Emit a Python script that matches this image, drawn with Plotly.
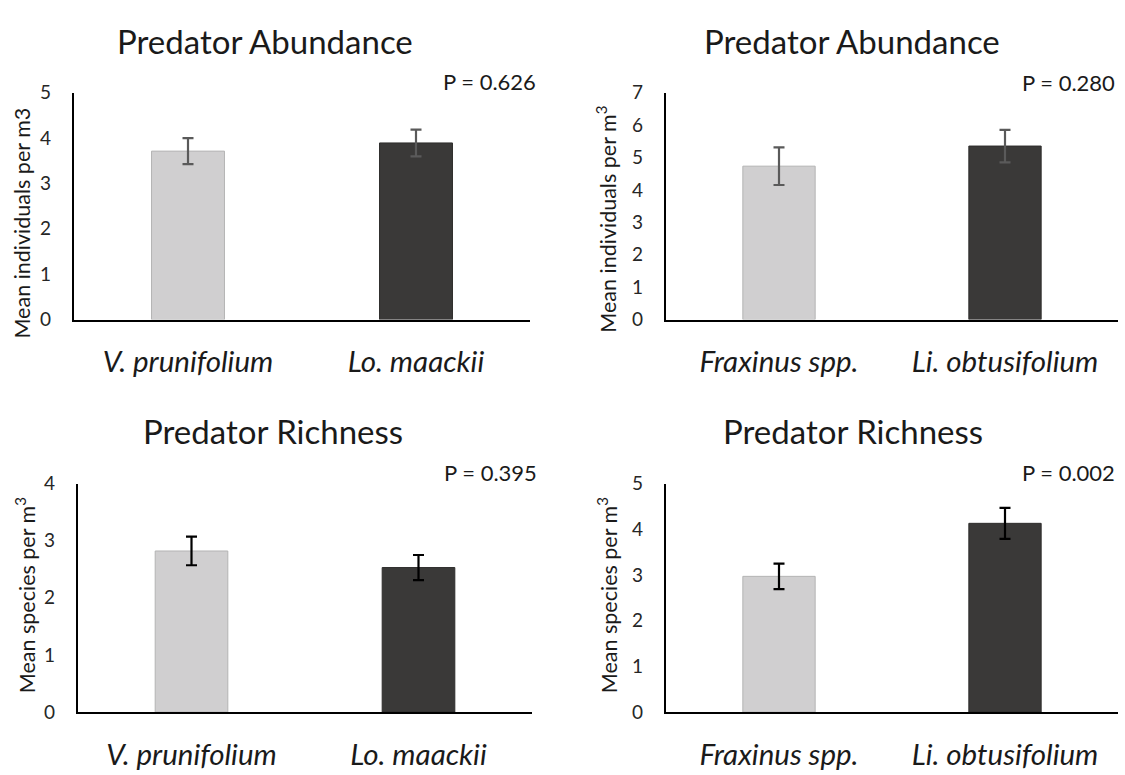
import plotly.graph_objects as go

FONT = "Lato"

# ---- data ----
cats_left = ["V. prunifolium", "Lo. maackii"]
cats_right = ["Fraxinus spp.", "Li. obtusifolium"]

abund_left = [3.71, 3.89]
abund_left_err = [0.285, 0.295]
abund_right = [4.73, 5.35]
abund_right_err = [0.58, 0.50]

rich_left = [2.82, 2.53]
rich_left_err = [0.25, 0.22]
rich_right = [2.97, 4.13]
rich_right_err = [0.28, 0.34]

titles = ["Predator Abundance", "Predator Abundance", "Predator Richness", "Predator Richness"]
pvals = ["P = 0.626", "P = 0.280", "P = 0.395", "P = 0.002"]
ytitles = ["Mean individuals per m3", "Mean individuals per m<sup>3</sup>",
           "Mean species per m<sup>3</sup>", "Mean species per m<sup>3</sup>"]
yranges = [5, 7, 4, 5]

bar_colors = ["#d0cfd0", "#3a3938"]
bar_lines = ["#b4b4b4", "#2e2d2c"]

# reference picture size used to place elements (as paper fractions)
W, H = 1125, 775

panels = [
    dict(cats=cats_left, vals=abund_left, err=abund_left_err, x=(74, 530), y=(83, 317), ecol="#5a5a5a"),
    dict(cats=cats_right, vals=abund_right, err=abund_right_err, x=(666, 1118), y=(83, 317), ecol="#5a5a5a"),
    dict(cats=cats_left, vals=rich_left, err=rich_left_err, x=(78, 532), y=(486, 721.5), ecol="#000000"),
    dict(cats=cats_right, vals=rich_right, err=rich_right_err, x=(666, 1118), y=(486, 721.5), ecol="#000000"),
]

fig = go.Figure()
layout = dict(
    width=W, height=H, margin=dict(l=0, r=0, t=0, b=0, pad=0),
    paper_bgcolor="white", plot_bgcolor="white", showlegend=False,
    font=dict(family=FONT, color="#262626"),
    bargap=0.68,
)
annotations = []

def px(x):
    return x / W

def py(y):
    return 1 - y / H

title_pos = [(265, 30), (852, 30), (273, 432), (853, 432)]
p_pos = [(538, 72), (1117, 73), (539, 475), (1117, 475)]
ytitle_pos = [(22, 218), (607, 214), (25, 601), (607, 601)]

for i, p in enumerate(panels):
    n = "" if i == 0 else str(i + 1)
    xa, ya = "x" + n, "y" + n
    fig.add_trace(go.Bar(
        x=list(range(len(p["cats"]))), y=p["vals"],
        marker=dict(color=bar_colors, line=dict(color=bar_lines, width=1)),
        error_y=dict(type="data", array=p["err"], visible=True,
                     color=p["ecol"], thickness=2.2, width=5.5),
        xaxis=xa, yaxis=ya, hoverinfo="skip",
    ))
    layout["xaxis" + n] = dict(
        domain=[px(p["x"][0]), px(p["x"][1])], anchor=ya,
        range=[-0.5, 1.5], tickmode="array", tickvals=[0, 1],
        ticktext=["<i>%s</i>" % c for c in p["cats"]],
        tickfont=dict(size=29.5, family=FONT, color="#1a1a1a"),
        showline=True, linecolor="black", linewidth=2.2,
        showgrid=False, zeroline=False, ticks="", ticklabelstandoff=15,
        fixedrange=True,
    )
    layout["yaxis" + n] = dict(
        domain=[py(p["y"][1]), py(p["y"][0])], anchor=xa,
        range=[0, yranges[i]], dtick=1, tick0=0,
        tickfont=dict(size=19, family=FONT, color="#262626"),
        showline=True, linecolor="black", linewidth=2.2,
        showgrid=False, zeroline=False, ticks="",
        ticklabelstandoff=17, fixedrange=True,
    )
    tx, ty = title_pos[i]
    annotations.append(dict(text=titles[i], x=px(tx), y=py(ty), xref="paper", yref="paper",
                            xanchor="center", yanchor="middle", showarrow=False,
                            font=dict(size=33, family=FONT, color="#1a1a1a")))
    qx, qy = p_pos[i]
    annotations.append(dict(text=pvals[i], x=px(qx), y=py(qy), xref="paper", yref="paper",
                            xanchor="right", yanchor="middle", showarrow=False,
                            font=dict(size=22, family=FONT, color="#1a1a1a")))
    yx, yy = ytitle_pos[i]
    annotations.append(dict(text=ytitles[i], x=px(yx), y=py(yy), xref="paper", yref="paper",
                            xanchor="center", yanchor="middle", showarrow=False, textangle=-90,
                            font=dict(size=21.5, family=FONT, color="#1a1a1a")))

layout["annotations"] = annotations
fig.update_layout(**layout)
post = ("var gd=document.getElementById('{plot_id}');"
        "document.documentElement.style.margin='0';"
        "document.documentElement.style.overflow='hidden';"
        "document.body.style.margin='0';"
        "document.body.style.overflow='hidden';"
        "gd.style.position='fixed';gd.style.top='0px';gd.style.left='0px';")
fig.write_html("out.html", post_script=post, config={"displayModeBar": False})
